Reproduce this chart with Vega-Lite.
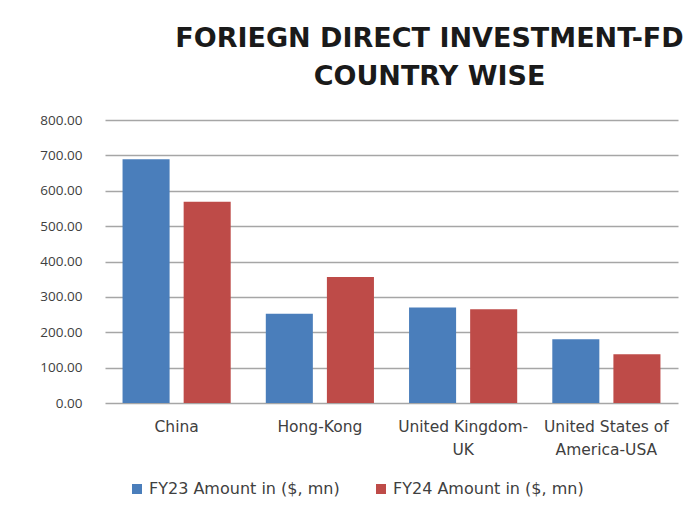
{
  "$schema": "https://vega.github.io/schema/vega-lite/v6.json",
  "width": 573,
  "height": 283,
  "autosize": {"type": "none"},
  "padding": {"left": 105, "top": 120, "right": 10, "bottom": 106},
  "background": "white",
  "title": {
    "text": ["FORIEGN DIRECT INVESTMENT-FD", "COUNTRY WISE"],
    "font": "DejaVu Sans",
    "fontSize": 27,
    "fontWeight": "bold",
    "color": "#1a1a1a",
    "anchor": "middle",
    "dx": 38,
    "offset": 22,
    "lineHeight": 38
  },
  "data": {
    "values": [
      {"country": "China", "series": "FY23 Amount in ($, mn)", "amount": 689},
      {"country": "China", "series": "FY24 Amount in ($, mn)", "amount": 569},
      {"country": "Hong-Kong", "series": "FY23 Amount in ($, mn)", "amount": 252},
      {"country": "Hong-Kong", "series": "FY24 Amount in ($, mn)", "amount": 356},
      {"country": "United Kingdom-UK", "series": "FY23 Amount in ($, mn)", "amount": 270},
      {"country": "United Kingdom-UK", "series": "FY24 Amount in ($, mn)", "amount": 265},
      {"country": "United States of America-USA", "series": "FY23 Amount in ($, mn)", "amount": 180},
      {"country": "United States of America-USA", "series": "FY24 Amount in ($, mn)", "amount": 138}
    ]
  },
  "mark": {"type": "bar"},
  "encoding": {
    "x": {
      "field": "country",
      "type": "nominal",
      "sort": null,
      "scale": {"paddingInner": 0.245, "paddingOuter": 0.1225},
      "axis": {
        "title": null,
        "labelAngle": 0,
        "ticks": false,
        "domain": false,
        "labelFont": "DejaVu Sans",
        "labelFontSize": 15.5,
        "labelColor": "#404040",
        "labelPadding": 16,
        "labelLineHeight": 23,
        "labelLimit": 300,
        "labelOverlap": false,
        "labelExpr": "datum.value == 'United Kingdom-UK' ? ['United Kingdom-', 'UK'] : datum.value == 'United States of America-USA' ? ['United States of', 'America-USA'] : datum.value"
      }
    },
    "xOffset": {
      "field": "series",
      "type": "nominal",
      "scale": {"paddingInner": 0.23, "paddingOuter": 0}
    },
    "y": {
      "field": "amount",
      "type": "quantitative",
      "scale": {"domain": [0, 800]},
      "axis": {
        "title": null,
        "values": [0, 100, 200, 300, 400, 500, 600, 700, 800],
        "format": ".2f",
        "ticks": false,
        "domain": false,
        "grid": true,
        "gridColor": "#a6a6a6",
        "gridWidth": 1.5,
        "labelFont": "Open Sans",
        "labelFontSize": 13.5,
        "labelColor": "#404040",
        "labelPadding": 23
      }
    },
    "color": {
      "field": "series",
      "type": "nominal",
      "scale": {"range": ["#4a7ebb", "#be4b48"]},
      "legend": {
        "title": null,
        "orient": "none",
        "direction": "horizontal",
        "legendX": 24,
        "legendY": 361,
        "symbolType": "square",
        "symbolSize": 100,
        "symbolStrokeWidth": 0,
        "labelFont": "DejaVu Sans",
        "labelFontSize": 16,
        "labelColor": "#404040",
        "labelLimit": 300,
        "columnPadding": 33,
        "labelOffset": 4
      }
    }
  },
  "config": {
    "view": {"stroke": null}
  }
}
